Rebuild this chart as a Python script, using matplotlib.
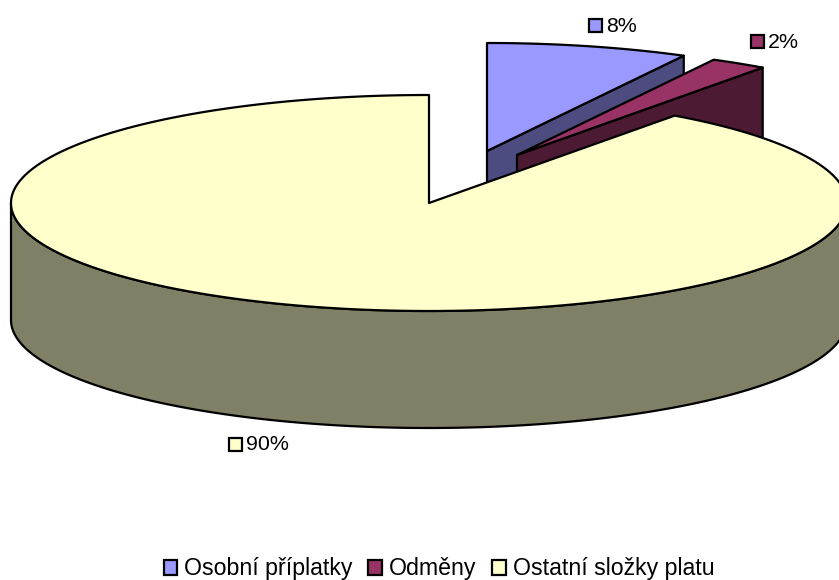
import numpy as np
import matplotlib
matplotlib.use("Agg")
import matplotlib.pyplot as plt
from matplotlib.patches import Patch, Rectangle

plt.rcParams['font.family'] = ['Liberation Sans', 'DejaVu Sans']

categories = ["Osobní příplatky", "Odměny", "Ostatní složky platu"]
values = [7.8, 2.2, 90]
labels = ["8%", "2%", "90%"]
top_colors = ["#9999FF", "#993366", "#FFFFCC"]
side_colors = ["#4C4C80", "#4D1A33", "#808066"]

W, H = 839, 580
fig = plt.figure(figsize=(W / 100, H / 100), dpi=100)
ax = fig.add_axes([0, 0, 1, 1])
ax.set_xlim(0, W)
ax.set_ylim(H, 0)
ax.axis("off")

RX, RY, DEPTH = 418, 108, 117
apexes = [(487, 151), (517, 155), (429, 203)]
label_pos = [(589, 25), (751, 41), (229, 444)]
LW = 1.6


def pt(c, t, dz=0):
    return c[0] + RX * np.sin(t), c[1] - RY * np.cos(t) + dz


fracs = np.array(values) / sum(values)
edges = np.concatenate([[0], np.cumsum(fracs)]) * 2 * np.pi


def draw(i):
    c = apexes[i]
    t0, t1 = edges[i], edges[i + 1]
    ts = np.linspace(t0, t1, 400)
    xs, ys = pt(c, ts)
    kw = dict(edgecolor="black", linewidth=LW, joinstyle="round", zorder=i + 2)
    if i < 2:
        # only the radial wall at the slice's clockwise end is visible
        ex, ey = pt(c, t1)
        ax.fill([c[0], ex, ex, c[0]], [c[1], ey, ey + DEPTH, c[1] + DEPTH],
                facecolor=side_colors[i], **kw)
    else:
        # front outer wall: lower half of the ellipse
        front = ts[(ts >= np.pi / 2) & (ts <= 3 * np.pi / 2)]
        fx, fy = pt(c, front)
        ax.fill(np.r_[fx, fx[::-1]], np.r_[fy, fy[::-1] + DEPTH],
                facecolor=side_colors[i], **kw)
    ax.fill(np.r_[c[0], xs], np.r_[c[1], ys], facecolor=top_colors[i], **kw)


for i in range(len(values)):
    draw(i)

for (x, y), txt, col in zip(label_pos, labels, top_colors):
    ax.add_patch(Rectangle((x, y - 6.5), 13, 13, facecolor=col, edgecolor="black",
                           linewidth=LW, zorder=10))
    ax.text(x + 17, y + 1, txt, fontsize=15.4, va="center", ha="left", color="black", zorder=10)

handles = [Patch(facecolor=c, edgecolor="black", linewidth=LW) for c in top_colors]
fig.legend(handles, categories, loc="center", bbox_to_anchor=(439 / W, 1 - 569 / H), ncol=3,
           frameon=False, fontsize=16.7, handlelength=0.58, handleheight=0.58,
           handletextpad=0.3, columnspacing=0.68, borderpad=0)

fig.savefig("out.png", dpi=100)
